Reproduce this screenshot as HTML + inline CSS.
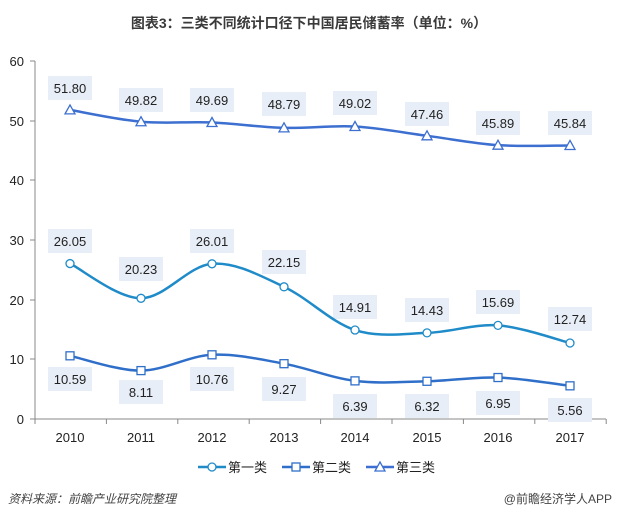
<!DOCTYPE html>
<html><head><meta charset="utf-8"><style>
body{margin:0;background:#fff;width:619px;height:518px;overflow:hidden;font-family:"Liberation Sans","Noto Sans CJK SC",sans-serif}
</style></head><body>
<svg width="619" height="518" xmlns="http://www.w3.org/2000/svg" font-family="Liberation Sans, Noto Sans CJK SC, sans-serif">
<text x="309" y="28" text-anchor="middle" font-size="14" font-weight="bold" fill="#3a3a3a">图表3：三类不同统计口径下中国居民储蓄率（单位：%）</text>
<g stroke="#888" stroke-width="1">
<line x1="35" y1="61" x2="35" y2="419"/>
<line x1="35" y1="419" x2="606" y2="419"/>
<line x1="30" y1="61" x2="35" y2="61"/><line x1="30" y1="121" x2="35" y2="121"/><line x1="30" y1="180" x2="35" y2="180"/><line x1="30" y1="240" x2="35" y2="240"/><line x1="30" y1="300" x2="35" y2="300"/><line x1="30" y1="359" x2="35" y2="359"/><line x1="30" y1="419" x2="35" y2="419"/>
<g id="xt"></g>
</g>
<g font-size="13" fill="#222" text-anchor="end">
<text x="24" y="66">60</text><text x="24" y="126">50</text><text x="24" y="185">40</text><text x="24" y="245">30</text><text x="24" y="305">20</text><text x="24" y="364">10</text><text x="24" y="424">0</text>
</g>
<g font-size="13" fill="#222" text-anchor="middle">
<text x="70" y="442">2010</text><text x="141" y="442">2011</text><text x="212" y="442">2012</text><text x="284" y="442">2013</text><text x="355" y="442">2014</text><text x="427" y="442">2015</text><text x="498" y="442">2016</text><text x="570" y="442">2017</text>
</g>
<g id="boxes" fill="#e8eef8"></g>
<g id="series"></g>
<g font-size="13" fill="#222" text-anchor="middle">
<text x="70" y="93">51.80</text><text x="141" y="105">49.82</text><text x="212" y="105">49.69</text><text x="284" y="109">48.79</text><text x="355" y="108">49.02</text><text x="427" y="119">47.46</text><text x="498" y="128">45.89</text><text x="570" y="128">45.84</text>
<text x="70" y="246">26.05</text><text x="141" y="274">20.23</text><text x="212" y="246">26.01</text><text x="284" y="267">22.15</text><text x="355" y="312">14.91</text><text x="427" y="315">14.43</text><text x="498" y="307">15.69</text><text x="570" y="324">12.74</text>
<text x="70" y="384">10.59</text><text x="141" y="397">8.11</text><text x="212" y="384">10.76</text><text x="284" y="394">9.27</text><text x="355" y="411">6.39</text><text x="427" y="411">6.32</text><text x="498" y="408">6.95</text><text x="570" y="415">5.56</text>
</g>
<g stroke-width="2.5" fill="#fff">
<line x1="198" y1="467" x2="226" y2="467" stroke="#1f8bc8"/><circle cx="212" cy="467" r="4" stroke="#1f8bc8" stroke-width="1.3"/>
<line x1="282" y1="467" x2="310" y2="467" stroke="#2f6fc9"/><rect x="292" y="463" width="8" height="8" stroke="#2f6fc9" stroke-width="1.3"/>
<line x1="366" y1="467" x2="394" y2="467" stroke="#3c6fd0"/><path d="M380 462 L385 471 L375 471Z" stroke="#3c6fd0" stroke-width="1.3"/>
</g>
<g font-size="13" fill="#222"><text x="228" y="472">第一类</text><text x="312" y="472">第二类</text><text x="396" y="472">第三类</text></g>
<text x="8" y="503" font-size="12" font-style="italic" fill="#444">资料来源：前瞻产业研究院整理</text>
<text x="612" y="503" font-size="12" fill="#444" text-anchor="end">@前瞻经济学人APP</text>
</svg>
<script>
var ns="http://www.w3.org/2000/svg";
function el(p,t,a){var e=document.createElementNS(ns,t);for(var k in a)e.setAttribute(k,a[k]);p.appendChild(e);return e;}
var xt=document.getElementById('xt');
for(var i=0;i<=8;i++){var x=35+i*71.4;el(xt,'line',{x1:x,y1:419,x2:x,y2:424});}
var X=[70,141,212,284,355,427,498,570];
var boxes=document.getElementById('boxes');
var L=[[88,100,100,104,103,114,123,123],[241,269,241,262,307,310,302,319],[379,392,379,389,406,406,403,410]];
L.forEach(function(r){r.forEach(function(y,i){el(boxes,'rect',{x:X[i]-22,y:y-12,width:44,height:24});});});
var D=[[26.05,20.23,26.01,22.15,14.91,14.43,15.69,12.74],[10.59,8.11,10.76,9.27,6.39,6.32,6.95,5.56],[51.80,49.82,49.69,48.79,49.02,47.46,45.89,45.84]];
var C=['#1f8bc8','#2f6fc9','#3c6fd0'];
var g=document.getElementById('series');
D.forEach(function(d,s){
 var P=d.map(function(v,i){return [X[i],419-v*5.967];});
 var p='M'+P[0][0]+' '+P[0][1];
 for(var i=0;i<P.length-1;i++){
  var p0=P[Math.max(i-1,0)],p1=P[i],p2=P[i+1],p3=P[Math.min(i+2,P.length-1)];
  var c1=[p1[0]+(p2[0]-p0[0])/6,p1[1]+(p2[1]-p0[1])/6],c2=[p2[0]-(p3[0]-p1[0])/6,p2[1]-(p3[1]-p1[1])/6];
  p+=' C'+c1+' '+c2+' '+p2;
 }
 el(g,'path',{d:p,fill:'none',stroke:C[s],'stroke-width':2.5});
 P.forEach(function(q){
  if(s==0)el(g,'circle',{cx:q[0],cy:q[1],r:4,fill:'#fff',stroke:C[s],'stroke-width':1.3});
  else if(s==1)el(g,'rect',{x:q[0]-4,y:q[1]-4,width:8,height:8,fill:'#fff',stroke:C[s],'stroke-width':1.3});
  else el(g,'path',{d:'M'+q[0]+' '+(q[1]-5)+' L'+(q[0]+5)+' '+(q[1]+4)+' L'+(q[0]-5)+' '+(q[1]+4)+'Z',fill:'#fff',stroke:C[s],'stroke-width':1.3});
 });
});
</script>
</body></html>
